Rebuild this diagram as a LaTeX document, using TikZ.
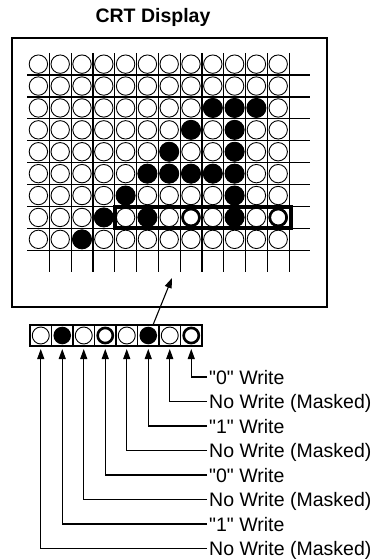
\documentclass[tikz,border=0pt]{standalone}
\usepackage{fontspec}
\setmainfont{Liberation Sans}
\newfontfamily\lblfont{Liberation Sans}
\usetikzlibrary{arrows.meta,calc}
\begin{document}
\begin{tikzpicture}[x=1pt,y=-1pt,
  gridline/.style={line width=1.2pt},
  opencirc/.style={draw, line width=0.9pt, fill=white},
  fillcirc/.style={fill=black},
  thickcirc/.style={draw, line width=2.6pt},
  cellbox/.style={draw, line width=1.1pt, minimum width=21.5pt, minimum height=21pt, inner sep=0pt, outer sep=0pt},
  lbl/.style={anchor=west, inner xsep=2pt, inner ysep=0pt, text height=14pt, text depth=0pt, font=\lblfont\fontsize{19.5}{22}\selectfont},
  leader/.style={line width=1.1pt, -{Triangle[length=10pt,width=7pt]}, shorten >=3pt},
  bigarrow/.style={line width=1.1pt, -{Triangle[length=10pt,width=7pt]}}
]
\useasboundingbox (0,0) rectangle (381,559);
% title
\node[font=\bfseries\fontsize{19.5}{22}\selectfont, inner sep=0pt] (title) at (153,17) {CRT Display};
% frame
\draw[line width=1.2pt] (12,38) rectangle (327,307);
% grid
\def\gx{27.5}\def\gy{53.2}\def\px{21.8}\def\py{21.9}
\foreach \r in {1,...,9}
  \draw[gridline] (27.3,{\gy+\r*\py}) -- (310,{\gy+\r*\py});
\foreach \c in {1,...,12}
  \draw[gridline] ({\gx+\c*\px},\gy) -- ({\gx+\c*\px},272);
\foreach \r in {1,...,9}
  \foreach \c in {1,...,12}
    \path[opencirc] ({\gx+(\c-0.5)*\px},{\gy+(\r-0.5)*\py}) circle[radius=9.2pt];
\foreach \r/\c in {3/9,3/10,3/11,4/8,4/10,5/7,5/10,6/6,6/7,6/8,6/9,6/10,7/5,7/10,8/4,8/6,8/10,9/3}
  \fill[fillcirc] ({\gx+(\c-0.5)*\px},{\gy+(\r-0.5)*\py}) circle[radius=10pt];
\foreach \r/\c in {8/8,8/12}
  \path[thickcirc, fill=white] ({\gx+(\c-0.5)*\px},{\gy+(\r-0.5)*\py}) circle[radius=8.4pt];
% thick selection rectangle
\draw[line width=4pt] ({\gx+4*\px},{\gy+7*\py}) rectangle ({\gx+12*\px+1.5},{\gy+8*\py});
\coordinate (tgt) at (172,278);
% mask strip
\foreach \k in {1,...,8}
  \node[cellbox] (m\k) at ({30+21.5*(\k-0.5)},335.5) {};
\foreach \k in {1,3,5,7}
  \path[opencirc] (m\k.center) circle[radius=8.5pt];
\foreach \k in {2,6}
  \fill[fillcirc] (m\k.center) circle[radius=8.8pt];
\foreach \k in {4,8}
  \path[thickcirc] (m\k.center) circle[radius=7.6pt];
\draw[bigarrow] ($(m6.north west)!0.72!(m6.north east)$) -- (tgt);
% labels
\node[lbl] (l8) at (207,377)   {"0" Write};
\node[lbl] (l7) at (207,401.5) {No Write (Masked)};
\node[lbl] (l6) at (207,426)   {"1" Write};
\node[lbl] (l5) at (207,450.5) {No Write (Masked)};
\node[lbl] (l4) at (207,475)   {"0" Write};
\node[lbl] (l3) at (207,499.5) {No Write (Masked)};
\node[lbl] (l2) at (207,524)   {"1" Write};
\node[lbl] (l1) at (207,548.5) {No Write (Masked)};
\foreach \k in {1,...,8}
  \draw[leader] (l\k.west) -| (m\k.south);
\end{tikzpicture}
\end{document}
